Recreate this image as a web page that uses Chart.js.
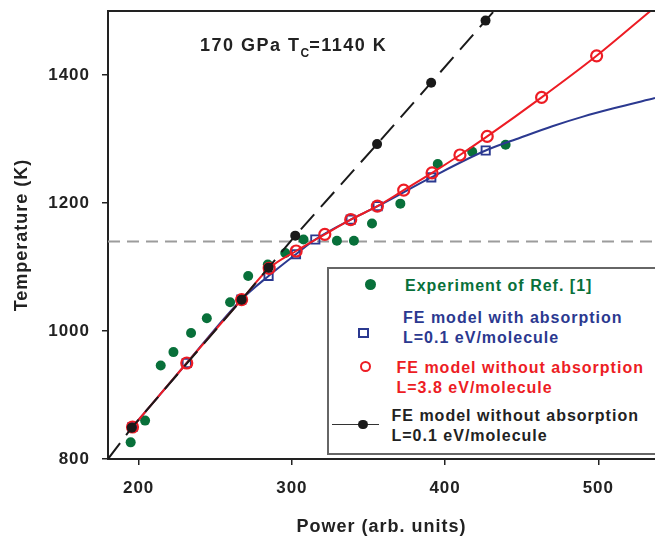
<!DOCTYPE html>
<html>
<head>
<meta charset="utf-8">
<script src="https://cdn.jsdelivr.net/npm/chart.js@4"></script>
<style>
  body { margin: 0; background: #fff; }
  #wrap { position: relative; width: 655px; height: 538px; overflow: hidden;
          font-family: 'Liberation Sans', Arial, sans-serif; font-weight: bold; }
  #myChart { position: absolute; left: 0; top: 0; }
  .txt { position: absolute; white-space: nowrap; font-size: 16px; line-height: 20px; letter-spacing: 1px; }
  .mk { position: absolute; box-sizing: border-box; }
</style>
</head>
<body>
<div id="wrap">
  <canvas id="myChart" width="655" height="538"></canvas>

  <div class="txt" style="left:200px; top:36px; font-size:18px; line-height:18px; letter-spacing:1.5px; color:#222;">170 GPa T<span style="font-size:12px; position:relative; top:6px; letter-spacing:0;">C</span>=1140 K</div>

  <div style="position:absolute; left:327px; top:267px; width:340px; height:188px; border:2px solid #666; box-sizing:border-box; background:#fff;"></div>

  <div class="mk" style="left:364.5px; top:278.5px; width:11px; height:11px; border-radius:50%; background:#08703a;"></div>
  <div class="txt" style="left:405px; top:276px; color:#08703a;">Experiment of Ref. [1]</div>

  <div class="mk" style="left:358px; top:327.5px; width:10.5px; height:10.5px; border:2px solid #2b3990;"></div>
  <div class="txt" style="left:403px; top:307.5px; color:#2b3990;">FE model with absorption<br>L=0.1 eV/molecule</div>

  <div class="mk" style="left:359.5px; top:360.5px; width:11.5px; height:11.5px; border-radius:50%; border:2px solid #ed1c24;"></div>
  <div class="txt" style="left:396.5px; top:357.5px; color:#ed1c24;">FE model without absorption<br>L=3.8 eV/molecule</div>

  <div class="mk" style="left:331.5px; top:423.5px; width:47px; height:1.5px; background:#333;"></div>
  <div class="mk" style="left:358px; top:419.5px; width:9.5px; height:9.5px; border-radius:50%; background:#1a1a1a;"></div>
  <div class="txt" style="left:391.5px; top:406px; color:#222;">FE model without absorption<br>L=0.1 eV/molecule</div>
</div>

<script>
var ctx = document.getElementById('myChart');

var xTicks = [200, 300, 400, 500];
var yTicks = [800, 1000, 1200, 1400];
var tc = 1140;

// Experiment of Ref. [1]
var expPower = [194.8, 204.2, 214.4, 222.7, 234.2, 244.5, 259.7, 271.5, 284.3, 295.7, 307.6, 329.4, 340.5, 352.3, 370.8, 395.2, 417.7, 439.5];
var expTemp  = [826, 860, 946, 967, 997, 1020, 1045, 1086, 1104, 1122, 1143, 1141, 1141, 1168, 1199, 1261, 1280, 1291];

// FE model with absorption, L=0.1 (squares, then the curve without markers)
var absPower = [196, 231.4, 267, 284.8, 302.7, 315.3, 338.4, 356, 391, 426.5];
var absTemp  = [850, 950, 1049, 1086, 1120, 1143, 1174, 1195, 1240, 1282];
var absTailPower = [449, 470, 490, 510, 537];
var absTailTemp  = [1302, 1320, 1335, 1348, 1364];

// FE model without absorption, L=3.8
var noAbsPower = [196, 231.4, 267.2, 285.2, 302.8, 321.5, 338.4, 355.8, 373, 391.5, 409.7, 427.5, 463, 498.9];
var noAbsTemp  = [850, 950, 1049, 1098, 1125, 1151, 1174, 1195, 1220, 1247, 1275, 1304, 1365, 1430];
var noAbsTailPower = [534];
var noAbsTailTemp  = [1500];

// FE model without absorption, L=0.1 (dashed)
var lowLPower = [195.5, 267.2, 284.8, 302.2, 355.6, 390.9, 426.4];
var lowLTemp  = [849, 1049, 1099, 1149, 1292, 1388, 1485];
var lowLEndPower = [180, 432];
var lowLEndTemp  = [800, 1500];

var xMin = 180, xMax = 537, yMin = 800, yMax = 1500;

function pts(xs, ys) {
    return xs.map(function (x, i) { return { x: x, y: ys[i] }; });
}

var tickFont = { family: "'Liberation Sans', Arial, sans-serif", size: 17, weight: 'bold' };
var titleFont = { family: "'Liberation Sans', Arial, sans-serif", size: 18, weight: 'bold' };

var frame = {
    id: 'frame',
    beforeDraw: function (chart) {
        chart.ctx.letterSpacing = '1px';
    },
    afterDatasetsDraw: function (chart) {
        var a = chart.chartArea, c = chart.ctx;
        c.save();
        c.strokeStyle = '#222';
        c.lineWidth = 2;
        c.beginPath();
        c.moveTo(a.left, a.top);
        c.lineTo(a.right, a.top);
        c.stroke();
        c.restore();
    }
};

var myChart = new Chart(ctx, {
    type: 'scatter',
    data: {
        datasets: [{
            label: 'Tc',
            data: pts([xMin, xMax], [tc, tc]),
            showLine: true,
            borderColor: '#9c9c9c',
            borderWidth: 2,
            borderDash: [12, 7],
            pointRadius: 0,
            order: 5
        }, {
            label: 'Experiment of Ref. [1]',
            data: pts(expPower, expTemp),
            pointRadius: 5,
            pointBackgroundColor: '#08703a',
            pointBorderWidth: 0,
            order: 4
        }, {
            label: 'FE model with absorption L=0.1 eV/molecule',
            data: pts(absPower.concat(absTailPower), absTemp.concat(absTailTemp)),
            showLine: true,
            cubicInterpolationMode: 'monotone',
            borderColor: '#2b3990',
            borderWidth: 2,
            pointStyle: 'rect',
            pointRadius: function (c) { return c.dataIndex < absPower.length ? 5.8 : 0; },
            pointBackgroundColor: 'rgba(0,0,0,0)',
            pointBorderColor: '#2b3990',
            pointBorderWidth: 1.9,
            order: 3
        }, {
            label: 'FE model without absorption L=3.8 eV/molecule',
            data: pts(noAbsPower.concat(noAbsTailPower), noAbsTemp.concat(noAbsTailTemp)),
            showLine: true,
            cubicInterpolationMode: 'monotone',
            borderColor: '#ed1c24',
            borderWidth: 2,
            pointRadius: function (c) { return c.dataIndex < noAbsPower.length ? 5.5 : 0; },
            pointBackgroundColor: 'rgba(0,0,0,0)',
            pointBorderColor: '#ed1c24',
            pointBorderWidth: 2.2,
            order: 2
        }, {
            label: 'FE model without absorption L=0.1 eV/molecule',
            data: pts([lowLEndPower[0]].concat(lowLPower, [lowLEndPower[1]]),
                      [lowLEndTemp[0]].concat(lowLTemp, [lowLEndTemp[1]])),
            showLine: true,
            borderColor: '#1a1a1a',
            borderWidth: 2,
            borderDash: [20, 10],
            pointRadius: function (c) {
                return (c.dataIndex === 0 || c.dataIndex === lowLPower.length + 1) ? 0 : 5;
            },
            pointBackgroundColor: '#1a1a1a',
            pointBorderWidth: 0,
            order: 1
        }]
    },
    options: {
        responsive: false,
        animation: false,
        devicePixelRatio: 1,
        layout: { autoPadding: false, padding: { top: 11, right: 0, left: 0, bottom: 0 } },
        plugins: { legend: { display: false }, tooltip: { enabled: false } },
        scales: {
            x: {
                type: 'linear',
                min: xMin,
                max: xMax,
                afterBuildTicks: function (s) { s.ticks = xTicks.map(function (v) { return { value: v }; }); },
                afterFit: function (s) { s.height = 79; s.paddingLeft = 0; s.paddingRight = 0; },
                grid: { drawOnChartArea: false, drawTicks: true, tickLength: 6, color: '#222', lineWidth: 1.5 },
                border: { display: true, color: '#222', width: 2 },
                ticks: { color: '#222', font: tickFont, padding: 13, maxRotation: 0,
                         callback: function (v) { return String(v); } },
                title: { display: true, text: 'Power (arb. units)', color: '#222', font: titleFont, padding: { top: 0, bottom: 0 } }
            },
            y: {
                type: 'linear',
                min: yMin,
                max: yMax,
                afterBuildTicks: function (s) { s.ticks = yTicks.map(function (v) { return { value: v }; }); },
                afterFit: function (s) { s.width = 108; s.paddingTop = 0; s.paddingBottom = 0; },
                grid: { drawOnChartArea: false, drawTicks: true, tickLength: 6, color: '#222', lineWidth: 1.5 },
                border: { display: true, color: '#222', width: 2 },
                ticks: { color: '#222', font: tickFont, padding: 12,
                         callback: function (v) { return String(v); } },
                title: { display: true, text: 'Temperature (K)', color: '#222', font: titleFont, padding: { top: 11, bottom: 0 } }
            }
        }
    },
    plugins: [frame]
});
</script>
</body>
</html>
